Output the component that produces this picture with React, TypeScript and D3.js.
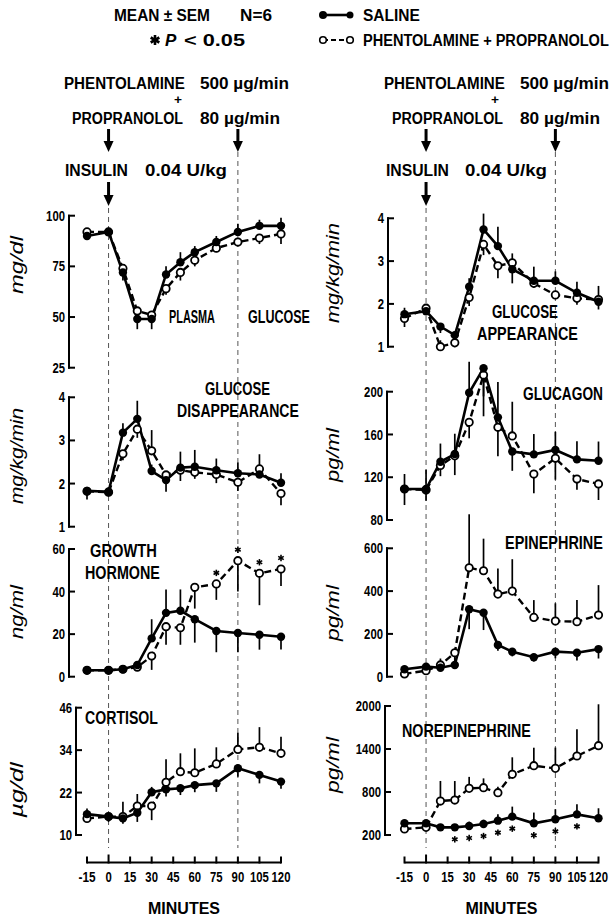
import React, { useEffect } from 'react';
import * as d3 from 'd3';

// ---------------- DATA ----------------
const TIMES = [-15, 0, 10, 20, 30, 40, 50, 60, 75, 90, 105, 120];
const X_TICKS = [-15, 0, 15, 30, 45, 60, 75, 90, 105, 120];
const EVENT_TIMES = [0, 90];

// Plasma glucose (mg/dl)
const GLU_TICKS = [25, 50, 75, 100];
const GLU_SAL = [90, 92, 72, 49, 49, 71, 77, 82, 87, 92, 95, 95];
const GLU_SAL_SEM = [3, 2, -4, -5, -5, 4, 5, 3, 3, 4, 3, 4];
const GLU_PP = [92, 92, 74, 53, 51, 64, 72, 78, 84, 87, 89, 91];
const GLU_PP_SEM = [-2, -2, -3, -2, -2, -3, -4, -3, -2, -2, -3, -5];

// Glucose disappearance (mg/kg/min)
const RD_TICKS = [1, 2, 3, 4];
const RD_SAL = [1.83, 1.81, 3.18, 3.5, 2.29, 2.08, 2.37, 2.39, 2.31, 2.24, 2.21, 2.02];
const RD_SAL_SEM = [-0.2, 0.1, 0.22, 0.42, 0.15, -0.27, 0.37, 0.39, 0.27, 0.25, 0.2, 0.22];
const RD_PP = [1.82, 1.8, 2.69, 3.26, 2.76, 2.2, 2.31, 2.26, 2.21, 2.03, 2.34, 1.77];
const RD_PP_SEM = [-0.1, -0.1, -0.15, -0.2, 0.48, -0.15, -0.25, -0.15, -0.2, -0.2, 0.34, -0.27];

// Growth hormone (ng/ml)
const GH_TICKS = [0, 20, 40, 60];
const GH_SAL = [3, 3, 3.5, 5.5, 18, 30, 31, 27, 21.5, 20.5, 19.7, 18.8];
const GH_SAL_SEM = [-1.5, -1.5, -1.5, -1.5, 9, 11, 10, -11, -10, -9, -7, -6];
const GH_PP = [3, 3, 3.5, 4.5, 9.7, 23.5, 23, 42, 43.6, 54.5, 48.6, 50.6];
const GH_PP_SEM = [1, 1, 1, 1.5, -6.5, -8.5, -8, -10, -7.5, -14.5, -15, -8];
const GH_STARS = [0, 0, 0, 0, 0, 0, 0, 0, 1, 1, 1, 1];

// Cortisol (µg/dl)
const COR_TICKS = [10, 22, 34, 46];
const COR_SAL = [15.9, 15.2, 14.7, 16.3, 22.1, 22.9, 23.2, 24.1, 24.6, 28.9, 27, 25.1];
const COR_SAL_SEM = [1.6, -1.5, -1.5, -2.6, 1.5, -2, -1.9, -2, -2.4, -2.4, -2.4, -2];
const COR_PP = [14.7, 15.2, 15.2, 18.2, 18.2, 24.9, 27.9, 27.6, 30.1, 34.2, 34.8, 33.1];
const COR_PP_SEM = [-1, -1, 4.2, 3.4, -4, 6.5, 5.2, 6.9, 4.7, 4.7, 5.7, 4.7];

// Glucose appearance (mg/kg/min)
const RA_TICKS = [1, 2, 3, 4];
const RA_SAL = [1.76, 1.83, 1.47, 1.27, 2.4, 3.74, 3.35, 2.81, 2.54, 2.54, 2.26, 2.05];
const RA_SAL_SEM = [0.15, 0.1, -0.15, -0.1, 0.2, 0.37, 0.45, -0.33, 0.33, 0.22, 0.26, 0.37];
const RA_PP = [1.66, 1.9, 1.0, 1.09, 2.15, 3.39, 2.89, 2.96, 2.48, 2.21, 2.13, 2.1];
const RA_PP_SEM = [-0.2, -0.1, 0.15, -0.1, -0.2, -0.25, -0.29, 0.22, -0.1, -0.1, -0.15, -0.23];

// Glucagon (pg/ml)
const GCG_TICKS = [80, 120, 160, 200];
const GCG_SAL = [109, 109, 134.5, 141.7, 199, 222, 176, 144, 141.4, 145.5, 136.7, 135.4];
const GCG_SAL_SEM = [14, 18, 17, 19, 29, -45, 33, -18, 19, 17, 17, 18];
const GCG_PP = [109, 108, 131, 140, 171.4, 215.6, 166.7, 158.6, 123, 137.7, 118.3, 113.7];
const GCG_PP_SEM = [-15, -10, -10, -18, -15, -20, -27, 32, -18, -20, -10, -15];

// Epinephrine (pg/ml)
const EPI_TICKS = [0, 200, 400, 600];
const EPI_SAL = [35, 47, 42, 55, 315, 299, 148, 117, 91, 117, 112, 129];
const EPI_SAL_SEM = [-10, -10, -10, -10, -93, -81, -27, -22, -20, -31, -36, -44];
const EPI_PP = [13, 28, 55, 112, 509, 495, 386, 400, 277, 260, 257, 288];
const EPI_PP_SEM = [10, 10, 30, -50, 250, 150, 120, 149, 81, 83, 101, 140];

// Norepinephrine (pg/ml)
const NE_TICKS = [200, 800, 1400, 2000];
const NE_SAL = [363, 363, 307, 307, 326, 353, 400, 456, 363, 419, 488, 433];
const NE_SAL_SEM = [-30, 30, 30, 40, 60, 60, 90, 140, 150, 140, 140, 140];
const NE_PP = [284, 307, 674, 688, 851, 860, 790, 1047, 1167, 1130, 1302, 1446];
const NE_PP_SEM = [-20, -20, 280, 265, 160, 130, 84, 237, 251, 290, 373, 578];
const NE_STARS = [0, 0, 0, 1, 1, 1, 1, 1, 1, 1, 1, 0];

// ---------------- LAYOUT ----------------
const FONT = "'Liberation Sans',Arial,sans-serif";
const UNIT_FONT = "'Liberation Sans',Arial,sans-serif";

type Title = { text: string; x: number; y: number; w: number };
type PanelCfg = {
  sal: number[]; salSem: number[]; pp: number[]; ppSem: number[];
  ticks: number[]; range: [number, number]; axisX: number;
  unit: string; unitX: number; unitY: number; unitW: number;
  titles: Title[];
  stars?: number[]; starMode?: 'above' | 'below';
};

const LEFT_RANGE: [number, number] = [87, 281];
const RIGHT_RANGE: [number, number] = [404.5, 598.5];

const LEFT_PANELS: PanelCfg[] = [
  { sal: GLU_SAL, salSem: GLU_SAL_SEM, pp: GLU_PP, ppSem: GLU_PP_SEM, ticks: GLU_TICKS,
    range: [367.7, 215.7], axisX: 69, unit: 'mg/dl', unitX: 17, unitY: 265, unitW: 58,
    titles: [{ text: 'PLASMA', x: 169, y: 317, w: 46 }, { text: 'GLUCOSE', x: 248, y: 317, w: 62 }] },
  { sal: RD_SAL, salSem: RD_SAL_SEM, pp: RD_PP, ppSem: RD_PP_SEM, ticks: RD_TICKS,
    range: [526.7, 397.3], axisX: 69, unit: 'mg/kg/min', unitX: 17, unitY: 456, unitW: 96,
    titles: [{ text: 'GLUCOSE', x: 205, y: 389, w: 65 }, { text: 'DISAPPEARANCE', x: 177, y: 411, w: 122 }] },
  { sal: GH_SAL, salSem: GH_SAL_SEM, pp: GH_PP, ppSem: GH_PP_SEM, ticks: GH_TICKS,
    range: [676.7, 549], axisX: 69, unit: 'ng/ml', unitX: 17, unitY: 612, unitW: 54,
    titles: [{ text: 'GROWTH', x: 90, y: 551, w: 67 }, { text: 'HORMONE', x: 85, y: 572.5, w: 75 }],
    stars: GH_STARS, starMode: 'above' },
  { sal: COR_SAL, salSem: COR_SAL_SEM, pp: COR_PP, ppSem: COR_PP_SEM, ticks: COR_TICKS,
    range: [835, 707.7], axisX: 76, unit: 'µg/dl', unitX: 17, unitY: 790, unitW: 55,
    titles: [{ text: 'CORTISOL', x: 85, y: 718, w: 73 }] },
];

const RIGHT_PANELS: PanelCfg[] = [
  { sal: RA_SAL, salSem: RA_SAL_SEM, pp: RA_PP, ppSem: RA_PP_SEM, ticks: RA_TICKS,
    range: [346.7, 218.3], axisX: 388, unit: 'mg/kg/min', unitX: 333, unitY: 273, unitW: 100,
    titles: [{ text: 'GLUCOSE', x: 492, y: 312, w: 66 }, { text: 'APPEARANCE', x: 477, y: 333.5, w: 101 }] },
  { sal: GCG_SAL, salSem: GCG_SAL_SEM, pp: GCG_PP, ppSem: GCG_PP_SEM, ticks: GCG_TICKS,
    range: [520, 391.7], axisX: 387, unit: 'pg/ml', unitX: 333, unitY: 455, unitW: 54,
    titles: [{ text: 'GLUCAGON', x: 523, y: 393.5, w: 80 }] },
  { sal: EPI_SAL, salSem: EPI_SAL_SEM, pp: EPI_PP, ppSem: EPI_PP_SEM, ticks: EPI_TICKS,
    range: [676.7, 548.3], axisX: 387, unit: 'pg/ml', unitX: 333, unitY: 613, unitW: 56,
    titles: [{ text: 'EPINEPHRINE', x: 505, y: 543, w: 98 }] },
  { sal: NE_SAL, salSem: NE_SAL_SEM, pp: NE_PP, ppSem: NE_PP_SEM, ticks: NE_TICKS,
    range: [835, 706], axisX: 385, unit: 'pg/ml', unitX: 333, unitY: 765, unitW: 56,
    titles: [{ text: 'NOREPINEPHRINE', x: 402, y: 731, w: 129 }],
    stars: NE_STARS, starMode: 'below' },
];

// width of a number label in the condensed original lettering
function numW(s: string) {
  let w = 0;
  for (const c of s) w += c === '-' ? 4.5 : c === '.' ? 3.5 : 6.3;
  return w;
}

// ---------------- TEXT MEASUREMENT ----------------
let _ctx: CanvasRenderingContext2D | null = null;
function measure(text: string, font: string): number {
  if (typeof document === 'undefined') return text.length * 8;
  if (!_ctx) _ctx = document.createElement('canvas').getContext('2d');
  if (!_ctx) return text.length * 8;
  _ctx.font = font;
  return _ctx.measureText(text).width;
}

// Text squeezed horizontally (like the condensed lettering of the original) via a transform
function Label(props: { x: number; y: number; w?: number; size?: number; anchor?: string; children: any; weight?: string; italic?: boolean }) {
  const { x, y, w, size = 17, anchor = 'start', children, weight = 'bold', italic = false } = props;
  const str = String(children);
  const fontSpec = `${italic ? 'italic ' : ''}${weight} ${size}px 'Liberation Sans', Arial, sans-serif`;
  const nat = measure(str, fontSpec);
  const sx = w && nat > 0 ? w / nat : 1;
  const by = y + size * 0.36;
  return (
    <text transform={`translate(${x},${by}) scale(${sx},1)`} fontFamily={FONT} fontSize={size}
      fontWeight={weight} fontStyle={italic ? 'italic' : 'normal'}
      textAnchor={anchor as any} fill="#000">
      {str}
    </text>
  );
}

function Star({ cx, cy, r, sw = 1.6 }: { cx: number; cy: number; r: number; sw?: number }) {
  const angles = [90, 30, 150];
  return (
    <g stroke="#000" strokeWidth={sw} strokeLinecap="butt">
      {angles.map((a) => {
        const rad = (a * Math.PI) / 180;
        const dx = Math.cos(rad) * r, dy = Math.sin(rad) * r;
        return <line key={a} x1={cx - dx} y1={cy - dy} x2={cx + dx} y2={cy + dy} />;
      })}
    </g>
  );
}

function Arrow({ x, y1, y2 }: { x: number; y1: number; y2: number }) {
  const head = 11;
  return (
    <g>
      <line x1={x} y1={y1} x2={x} y2={y2 - head + 1} stroke="#000" strokeWidth={3} />
      <polygon points={`${x - 5},${y2 - head} ${x + 5},${y2 - head} ${x},${y2}`} fill="#000" />
    </g>
  );
}

function UnitLabel({ p }: { p: PanelCfg }) {
  const size = 19;
  const nat = measure(p.unit, `italic normal ${size}px 'Liberation Sans', Arial, sans-serif`);
  const sx = nat > 0 ? p.unitW / nat : 1;
  return (
    <text transform={`translate(${p.unitX + 6},${p.unitY}) rotate(-90) scale(${sx},1)`} textAnchor="middle"
      fontFamily={UNIT_FONT} fontStyle="italic" fontSize={size} fill="#000">{p.unit}</text>
  );
}

function Panel({ p, x }: { p: PanelCfg; x: d3.ScaleLinear<number, number> }) {
  const dom = [p.ticks[0], p.ticks[p.ticks.length - 1]];
  const y = d3.scaleLinear().domain(dom).range(p.range);
  const line = d3.line<number>().x((_, i) => x(TIMES[i])).y((d) => y(d));
  const ax = p.axisX;
  return (
    <g>
      {/* y axis */}
      <line x1={ax} x2={ax} y1={y(dom[0]) + 1} y2={y(dom[1]) - 1} stroke="#000" strokeWidth={2} />
      {p.ticks.map((t) => (
        <g key={t}>
          <line x1={ax - 1} x2={ax + 6} y1={y(t)} y2={y(t)} stroke="#000" strokeWidth={2} />
          <Label x={ax - 4} y={y(t)} size={14} anchor="end" w={numW(String(t))}>{t}</Label>
        </g>
      ))}
      <UnitLabel p={p} />
      {p.titles.map((t) => (
        <Label key={t.text} x={t.x} y={t.y} w={t.w} size={18}>{t.text}</Label>
      ))}
      {/* error bars */}
      {p.pp.map((v, i) => (
        <line key={'pe' + i} x1={x(TIMES[i])} x2={x(TIMES[i])} y1={y(v)} y2={y(v + p.ppSem[i])}
          stroke="#000" strokeWidth={1.7} />
      ))}
      {p.sal.map((v, i) => (
        <line key={'se' + i} x1={x(TIMES[i])} x2={x(TIMES[i])} y1={y(v)} y2={y(v + p.salSem[i])}
          stroke="#000" strokeWidth={1.7} />
      ))}
      {/* lines */}
      <path d={line(p.pp) || ''} fill="none" stroke="#000" strokeWidth={2.4} strokeDasharray="7,4" />
      <path d={line(p.sal) || ''} fill="none" stroke="#000" strokeWidth={2.6} />
      {/* markers */}
      {p.pp.map((v, i) => (
        <circle key={'pm' + i} cx={x(TIMES[i])} cy={y(v)} r={3.7} fill="#fff" stroke="#000" strokeWidth={1.8} />
      ))}
      {p.sal.map((v, i) => (
        <circle key={'sm' + i} cx={x(TIMES[i])} cy={y(v)} r={4.2} fill="#000" />
      ))}
      {/* significance */}
      {p.stars && p.stars.map((s, i) => s ? (
        p.starMode === 'above'
          ? <Star key={'st' + i} cx={x(TIMES[i])} cy={y(p.pp[i]) - 11} r={3.2} />
          : <Star key={'st' + i} cx={x(TIMES[i])} cy={y(p.sal[i]) + 12} r={3.2} />
      ) : null)}
    </g>
  );
}

function Column({ range, panels, side }: { range: [number, number]; panels: PanelCfg[]; side: 'L' | 'R' }) {
  const x = d3.scaleLinear().domain([X_TICKS[0], X_TICKS[X_TICKS.length - 1]]).range(range);
  const axisY = 862.5;
  const x0 = x(EVENT_TIMES[0]);
  const x90 = x(EVENT_TIMES[1]);
  const isL = side === 'L';
  const o = isL ? 0 : 319; // horizontal offset of the right annotation block
  return (
    <g>
      {/* reference dashed lines */}
      <line x1={x0} x2={x0} y1={208} y2={848} stroke="#555" strokeWidth={1} strokeDasharray="5,4" />
      <line x1={x90} x2={x90} y1={152} y2={848} stroke="#555" strokeWidth={1} strokeDasharray="5,4" />
      {/* annotations */}
      <Label x={64 + o + (isL ? 0 : 1)} y={83} w={121}>PHENTOLAMINE</Label>
      <Label x={200 + o + (isL ? 0 : 1)} y={83} w={89}>500 µg/min</Label>
      <Label x={178 + o - (isL ? 0 : 2)} y={99.5} size={13} anchor="middle" w={8}>+</Label>
      <Label x={72 + o + (isL ? 0 : 1)} y={118} w={111}>PROPRANOLOL</Label>
      <Label x={200 + o + (isL ? 0 : 1)} y={118} w={80}>80 µg/min</Label>
      <Arrow x={x0} y1={129} y2={152} />
      <Arrow x={x90} y1={129} y2={152} />
      <Label x={65 + o + (isL ? 0 : 2)} y={170} w={63}>INSULIN</Label>
      <Label x={145 + o + (isL ? 0 : 1)} y={170} w={82}>0.04 U/kg</Label>
      <Arrow x={x0} y1={182} y2={206} />
      {panels.map((p, i) => <Panel key={i} p={p} x={x} />)}
      {/* x axis */}
      <line x1={x(X_TICKS[0])} x2={x(X_TICKS[X_TICKS.length - 1])} y1={axisY} y2={axisY} stroke="#000" strokeWidth={2} />
      {X_TICKS.map((t) => (
        <g key={t}>
          <line x1={x(t)} x2={x(t)} y1={axisY + 1} y2={axisY - (t === 0 ? 8 : 6)} stroke="#000" strokeWidth={2} />
          <Label x={x(t)} y={877} size={15} anchor="middle" w={numW(String(t))}>{t}</Label>
        </g>
      ))}
      <Label x={(range[0] + range[1]) / 2} y={908} w={72} anchor="middle">MINUTES</Label>
    </g>
  );
}

export default function App() {
  useEffect(() => {
    document.body.style.margin = '0';
    document.body.style.overflow = 'hidden';
  }, []);
  const pNat = measure('P', "italic bold 17px 'Liberation Sans', Arial, sans-serif");
  return (
    <svg width={614} height={919} viewBox="0 0 614 919"
      style={{ position: 'absolute', left: 0, top: 0, background: '#fff' }}>
      <rect x={0} y={0} width={614} height={919} fill="#fff" />
      {/* header */}
      <Label x={114} y={15} w={96}>MEAN ± SEM</Label>
      <Label x={240} y={15} w={32}>N=6</Label>
      <Star cx={155} cy={40} r={5} sw={2.6} />
      <Label x={165} y={40} w={Math.min(12, pNat)} italic>P</Label>
      <Label x={184} y={40} w={61}>{'< 0.05'}</Label>
      {/* legend */}
      <line x1={323} x2={350} y1={15} y2={15} stroke="#000" strokeWidth={2.6} />
      <circle cx={323} cy={15} r={4} fill="#000" />
      <circle cx={350} cy={15} r={3.5} fill="#000" />
      <line x1={323} x2={350} y1={40} y2={40} stroke="#000" strokeWidth={2.2} strokeDasharray="5,3" />
      <circle cx={323} cy={40} r={3.3} fill="#fff" stroke="#000" strokeWidth={1.6} />
      <circle cx={350} cy={40} r={3.3} fill="#fff" stroke="#000" strokeWidth={1.6} />
      <Label x={363} y={15} w={57}>SALINE</Label>
      <Label x={363} y={40} w={246}>PHENTOLAMINE + PROPRANOLOL</Label>
      <Column range={LEFT_RANGE} panels={LEFT_PANELS} side="L" />
      <Column range={RIGHT_RANGE} panels={RIGHT_PANELS} side="R" />
    </svg>
  );
}
